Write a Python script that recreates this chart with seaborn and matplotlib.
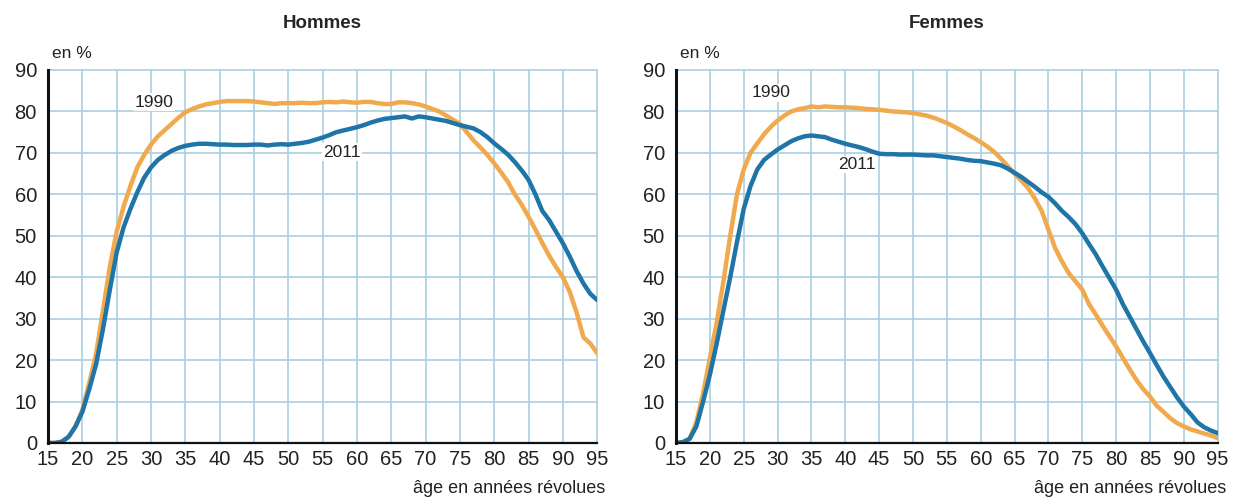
import numpy as np
import pandas as pd
import seaborn as sns
import matplotlib.pyplot as plt

# Data (taux d'activite en %, par age)
ages = list(range(15, 96))

hommes_1990 = [
    0, 0, 0.3, 1.5, 4, 8, 14.5, 21.5, 32, 42.5,
    51, 57, 62, 66.5, 69.5, 72, 74, 75.5, 77, 78.5,
    79.8, 80.6, 81.2, 81.7, 82, 82.3, 82.5, 82.5, 82.5, 82.5,
    82.4, 82.2, 82, 81.8, 82, 82, 82, 82.1, 82, 82,
    82.2, 82.3, 82.2, 82.4, 82.2, 82.1, 82.3, 82.3, 82, 81.8,
    81.8, 82.2, 82.2, 82, 81.7, 81.2, 80.6, 80, 79, 78,
    77, 75, 73, 71.3, 69.5, 67.5, 65.3, 63, 60, 57.5,
    54.6, 51.5, 48.3, 45.2, 42.5, 40, 36.5, 31.5, 25.5, 24,
    21.7,
]
hommes_2011 = [
    0, 0, 0.3, 1.5, 4, 7.5, 13, 19, 27.5, 37,
    46, 52, 56.5, 60.5, 64, 66.5, 68.3, 69.5, 70.5, 71.2,
    71.7, 72, 72.2, 72.2, 72.1, 72, 72, 71.9, 71.9, 71.9,
    72, 72, 71.8, 72, 72.1, 72, 72.2, 72.4, 72.7, 73.2,
    73.7, 74.3, 75, 75.4, 75.8, 76.2, 76.7, 77.3, 77.8, 78.2,
    78.4, 78.6, 78.8, 78.3, 78.8, 78.6, 78.3, 78, 77.7, 77.2,
    76.7, 76.3, 75.9, 75, 73.8, 72.3, 71, 69.6, 67.8, 65.8,
    63.5, 60, 56, 53.8, 51, 48.2, 45, 41.5, 38.5, 36,
    34.5,
]
femmes_1990 = [
    0, 0.2, 1, 5, 12, 20.5, 29, 39, 50, 60,
    66, 70, 72.3, 74.5, 76.3, 77.8, 79, 80, 80.5, 80.8,
    81.2, 81, 81.2, 81.1, 81, 81, 80.9, 80.8, 80.6, 80.5,
    80.4, 80.2, 80, 79.9, 79.8, 79.6, 79.3, 79, 78.5, 77.9,
    77.2, 76.4, 75.5, 74.5, 73.6, 72.6, 71.5, 70.2, 68.6, 66.8,
    65, 63.3, 61.5, 59, 56, 51.5, 47, 43.8, 41, 39,
    37, 33.5, 31, 28.3, 25.8, 23.3, 20.5, 17.8, 15.2, 13,
    11.2, 9, 7.5, 6, 4.8, 4, 3.3, 2.8, 2.3, 1.8,
    1.2,
]
femmes_2011 = [
    0, 0.2, 1, 4, 10, 16.5, 24, 32, 40, 48.5,
    56.5, 62, 66, 68.3, 69.6, 70.8, 71.8, 72.8, 73.5, 74,
    74.2, 74, 73.8, 73.2, 72.7, 72.2, 71.8, 71.4, 70.9, 70.3,
    69.8, 69.7, 69.7, 69.6, 69.6, 69.6, 69.5, 69.4, 69.4, 69.2,
    69, 68.8, 68.6, 68.3, 68.1, 68, 67.7, 67.4, 67, 66.2,
    65.2, 64.2, 63, 61.8, 60.5, 59.4, 57.8, 56, 54.5, 52.8,
    50.6, 48, 45.5, 42.6, 39.8, 37, 33.5, 30.5, 27.5, 24.5,
    21.7, 18.8, 16, 13.5, 11, 8.8, 7, 5, 3.8, 3,
    2.4,
]

# Labels
panels = ["Hommes", "Femmes"]
years = ["1990", "2011"]
x_ticks = list(range(15, 96, 5))
y_ticks = list(range(0, 91, 10))
y_unit = "en %"
x_label = "âge en années révolues"

colors = {"1990": "#f0a94c", "2011": "#1f74a8"}
grid_color = "#a9d0e2"

sns.set_theme(style="white")
plt.rcParams["font.family"] = ["Liberation Sans", "DejaVu Sans"]

series = {
    "Hommes": {"1990": hommes_1990, "2011": hommes_2011},
    "Femmes": {"1990": femmes_1990, "2011": femmes_2011},
}

# Label positions (age, value) for the year annotations
label_pos = {
    "Hommes": {"1990": (30.5, 82.2), "2011": (57.8, 70.2)},
    "Femmes": {"1990": (29.0, 84.5), "2011": (41.7, 67.2)},
}

fig = plt.figure(figsize=(12.48, 5.0), dpi=100)
axes = [
    fig.add_axes([0.0385, 0.114, 0.440, 0.746]),
    fig.add_axes([0.5417, 0.114, 0.434, 0.746]),
]

for ax, panel in zip(axes, panels):
    for year in years:
        df = pd.DataFrame({"age": ages, "taux": series[panel][year]})
        sns.lineplot(data=df, x="age", y="taux", color=colors[year],
                     linewidth=3.2, ax=ax, zorder=3)

    ax.set_xlim(15, 95)
    ax.set_ylim(0, 90)
    ax.set_xticks(x_ticks)
    ax.set_yticks(y_ticks)
    ax.grid(True, color=grid_color, linewidth=1.2)
    ax.set_axisbelow(True)
    for gl in ax.get_xgridlines() + ax.get_ygridlines():
        gl.set_clip_on(False)

    for side in ["top", "right"]:
        ax.spines[side].set_visible(False)
    ax.spines["left"].set_color("#111111")
    ax.spines["left"].set_linewidth(2.2)
    ax.spines["bottom"].set_color("#111111")
    ax.spines["bottom"].set_linewidth(1.6)
    ax.spines["left"].set_zorder(4)
    ax.spines["bottom"].set_zorder(4)

    ax.tick_params(axis="both", length=0, labelsize=14.5, colors="#222222")
    ax.tick_params(axis="x", pad=5)
    ax.tick_params(axis="y", pad=8)
    ax.set_xlabel("")
    ax.set_ylabel("")

    ax.set_title(panel, fontsize=13.5, fontweight="bold", pad=30)
    ax.text(0.008, 1.025, y_unit, transform=ax.transAxes, fontsize=12.5,
            ha="left", va="bottom", color="#222222")
    ax.text(1.015, -0.1, x_label, transform=ax.transAxes, fontsize=13,
            ha="right", va="top", color="#222222")

    for year in years:
        lx, ly = label_pos[panel][year]
        ax.text(lx, ly, year, fontsize=12.5, ha="center", va="center",
                color="#222222", zorder=2,
                bbox=dict(facecolor="white", edgecolor="none", pad=1.0))

fig.savefig("out.png", dpi=100)
